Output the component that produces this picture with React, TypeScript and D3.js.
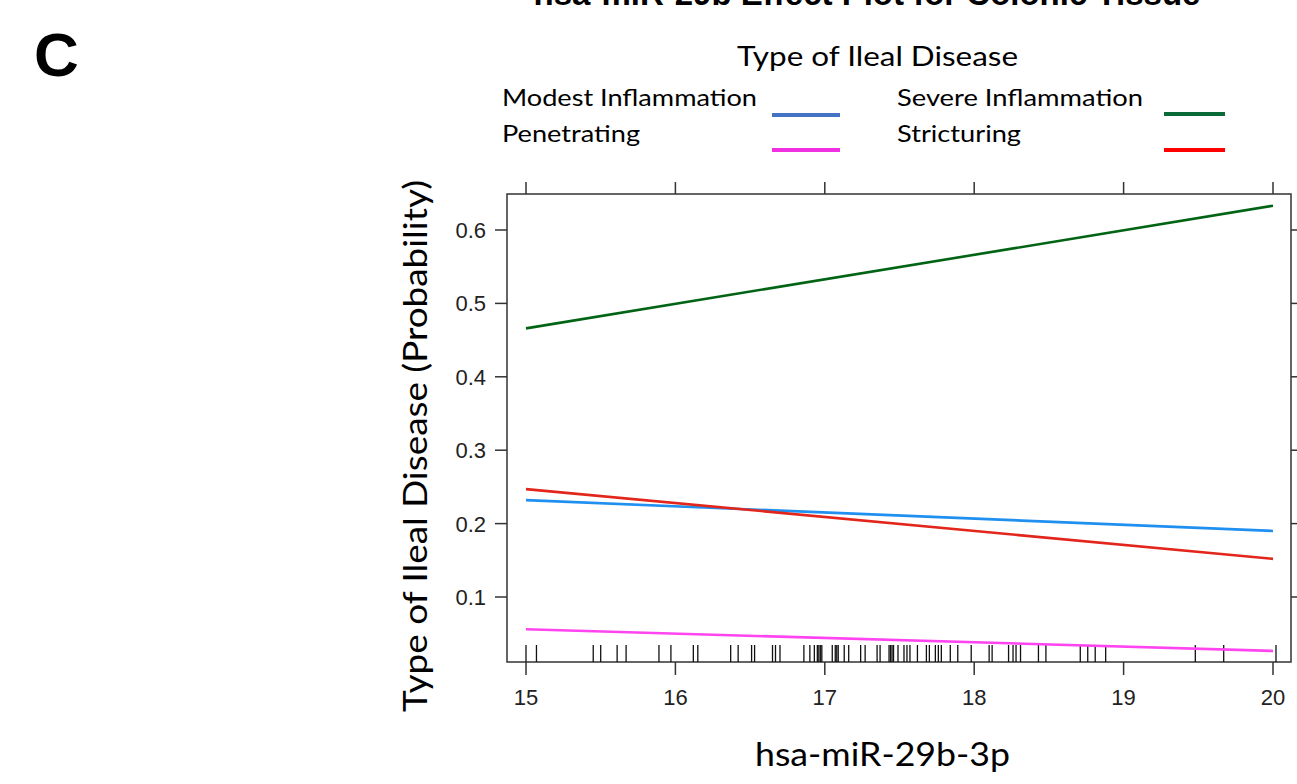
import React from "react";
import * as d3 from "d3";

const seriesNames = ["Modest Inflammation", "Penetrating", "Severe Inflammation", "Stricturing"];
const xEnds = [15, 20];
const modestVals = [0.232, 0.19];
const penetratingVals = [0.056, 0.0265];
const severeVals = [0.466, 0.633];
const stricturingVals = [0.247, 0.152];
const yTicks = [0.1, 0.2, 0.3, 0.4, 0.5, 0.6];
const xTicks = [15, 16, 17, 18, 19, 20];
const rugValues = [
  15.0, 15.07, 15.45, 15.5, 15.61, 15.67, 15.89, 15.97, 16.12, 16.15, 16.37, 16.42, 16.51, 16.53,
  16.65, 16.67, 16.7, 16.86, 16.9, 16.93, 16.95, 16.96, 16.97, 16.98, 17.05, 17.07, 17.08, 17.09,
  17.13, 17.16, 17.24, 17.27, 17.35, 17.37, 17.43, 17.44, 17.45, 17.46, 17.49, 17.53, 17.55, 17.57,
  17.62, 17.68, 17.7, 17.74, 17.76, 17.78, 17.84, 17.89, 17.98, 18.1, 18.12, 18.23, 18.26, 18.28,
  18.31, 18.43, 18.48, 18.71, 18.76, 18.81, 18.88, 19.48, 19.67, 20.02,
];

const plotColors = ["#1f8ff0", "#ff44f0", "#006414", "#e3261b"];
const legendColors = ["#4472c4", "#f030e0", "#0a6a38", "#ff0000"];

export default function App() {
  const W = 1297, H = 784;
  const left = 507, right = 1291, top = 194, bottom = 662;
  const x = d3.scaleLinear().domain([15, 20]).range([526, 1273]);
  const y = d3.scaleLinear().domain([0, 0.6]).range([670.4, 230]);
  const line = d3.line<[number, number]>().x((d) => x(d[0])).y((d) => y(d[1]));
  const series = [modestVals, penetratingVals, severeVals, stricturingVals];
  const calibri = "Lato, 'Open Sans', sans-serif";
  const arial = "'Liberation Sans', Arial, sans-serif";
  const axisCol = "#333";

  const legendItems = [
    { i: 0, tx: 502, ty: 106, tl: 255, lx1: 772, lx2: 840, ly: 115 },
    { i: 1, tx: 502, ty: 142, tl: 138, lx1: 772, lx2: 840, ly: 150 },
    { i: 2, tx: 897, ty: 106, tl: 246, lx1: 1164, lx2: 1225, ly: 114 },
    { i: 3, tx: 897, ty: 142, tl: 124, lx1: 1164, lx2: 1225, ly: 150 },
  ];

  return (
    <svg width={W} height={H} style={{ position: "absolute", left: 0, top: 0, background: "#fff" }}>
      <rect x={0} y={0} width={W} height={H} fill="#fff" />
      <text x={867} y={5} textAnchor="middle" fontFamily={arial} fontWeight="bold" fontSize={33} fill="#000">
        hsa-miR-29b Effect Plot for Colonic Tissue
      </text>
      <text x={34} y={76} fontFamily={arial} fontWeight="bold" fontSize={62} fill="#000">C</text>

      <text x={737} y={66} fontFamily={calibri} fontSize={27} fill="#000" textLength={281} lengthAdjust="spacingAndGlyphs">
        Type of Ileal Disease
      </text>
      {legendItems.map((l) => (
        <g key={l.i}>
          <text x={l.tx} y={l.ty} fontFamily={calibri} fontSize={23} fill="#000" textLength={l.tl} lengthAdjust="spacingAndGlyphs">
            {seriesNames[l.i]}
          </text>
          <line x1={l.lx1} x2={l.lx2} y1={l.ly} y2={l.ly} stroke={legendColors[l.i]} strokeWidth={4} />
        </g>
      ))}

      {/* panel */}
      <rect x={left} y={top} width={right - left} height={bottom - top} fill="none" stroke={axisCol} strokeWidth={1.5} />
      {xTicks.map((t) => (
        <g key={"x" + t}>
          <line x1={x(t)} x2={x(t)} y1={bottom} y2={bottom + 13} stroke={axisCol} strokeWidth={1.5} />
          <line x1={x(t)} x2={x(t)} y1={top} y2={top - 12} stroke={axisCol} strokeWidth={1.5} />
          <text x={x(t)} y={705} textAnchor="middle" fontFamily={arial} fontSize={22} fill="#222">{t}</text>
        </g>
      ))}
      {yTicks.map((t) => (
        <g key={"y" + t}>
          <line x1={left} x2={left - 12} y1={y(t)} y2={y(t)} stroke={axisCol} strokeWidth={1.5} />
          <line x1={right} x2={right + 12} y1={y(t)} y2={y(t)} stroke={axisCol} strokeWidth={1.5} />
          <text x={486} y={y(t) + 8} textAnchor="end" fontFamily={arial} fontSize={22} fill="#222">{t.toFixed(1)}</text>
        </g>
      ))}
      {rugValues.map((v, i) => (
        <line key={"r" + i} x1={x(v)} x2={x(v)} y1={645} y2={bottom} stroke="#111" strokeWidth={1.3} />
      ))}
      {series.map((vals, i) => (
        <path
          key={"s" + i}
          d={line(xEnds.map((xv, j) => [xv, vals[j]] as [number, number])) || ""}
          fill="none"
          stroke={plotColors[i]}
          strokeWidth={2.6}
        />
      ))}

      <text
        transform={`translate(427, 446) rotate(-90)`}
        textAnchor="middle"
        fontFamily={calibri}
        fontSize={33}
        fill="#000"
        textLength={532}
        lengthAdjust="spacingAndGlyphs"
      >
        Type of Ileal Disease (Probability)
      </text>
      <text x={755} y={766} fontFamily={calibri} fontSize={32} fill="#000" textLength={255} lengthAdjust="spacingAndGlyphs">
        hsa-miR-29b-3p
      </text>
    </svg>
  );
}
